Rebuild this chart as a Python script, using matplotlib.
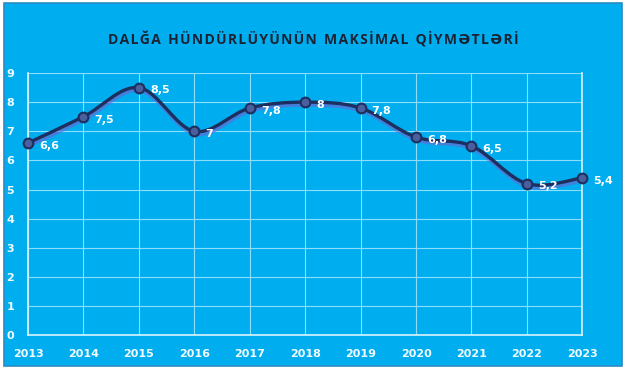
import matplotlib.pyplot as plt
from matplotlib.path import Path
from matplotlib.patches import PathPatch, Rectangle
import matplotlib.transforms as mtransforms

# values
years = [2013, 2014, 2015, 2016, 2017, 2018, 2019, 2020, 2021, 2022, 2023]
heights = [6.6, 7.5, 8.5, 7.0, 7.8, 8.0, 7.8, 6.8, 6.5, 5.2, 5.4]
labels = ["6,6", "7,5", "8,5", "7", "7,8", "8", "7,8", "6,8", "6,5", "5,2", "5,4"]
title = "DALĞA HÜNDÜRLÜYÜNÜN MAKSİMAL QİYMƏTLƏRİ"

bg = "#00AEEF"
navy = "#1C2F5F"

fig = plt.figure(figsize=(6.27, 3.69), dpi=100)
fig.patch.set_facecolor("white")
fig.patches.append(Rectangle((0.006, 0.008), 0.986, 0.984, transform=fig.transFigure,
                             facecolor=bg, edgecolor="#2A8BC4", linewidth=1.2, zorder=-10))

ax = fig.add_axes([0.0447, 0.092, 0.884, 0.710])
ax.set_facecolor(bg)
ax.set_xlim(2013, 2023)
ax.set_ylim(0, 9)
ax.set_xticks(years)
ax.set_yticks(range(10))
ax.grid(True, color="#8FDDFA", linewidth=0.8)
ax.set_axisbelow(True)
ax.spines["top"].set_visible(False)
for s in ["left", "bottom", "right"]:
    ax.spines[s].set_color("#D8F4FF")
    ax.spines[s].set_linewidth(1.2)
ax.tick_params(length=0, colors="#F2FBFF", labelsize=8)
ax.tick_params(axis="x", pad=10)
ax.tick_params(axis="y", pad=10)
for t in ax.get_xticklabels() + ax.get_yticklabels():
    t.set_fontweight("bold")

# smooth line like the spreadsheet's smoothed series (bezier through each point)
verts = [(years[0], heights[0])]
codes = [Path.MOVETO]
n = len(years)
for i in range(n - 1):
    p0 = (years[max(i - 1, 0)], heights[max(i - 1, 0)])
    p1 = (years[i], heights[i])
    p2 = (years[i + 1], heights[i + 1])
    p3 = (years[min(i + 2, n - 1)], heights[min(i + 2, n - 1)])
    c1 = (p1[0] + (p2[0] - p0[0]) / 6, p1[1] + (p2[1] - p0[1]) / 6)
    c2 = (p2[0] - (p3[0] - p1[0]) / 6, p2[1] - (p3[1] - p1[1]) / 6)
    verts += [c1, c2, p2]
    codes += [Path.CURVE4] * 3
path = Path(verts, codes)

shadow_tr = mtransforms.offset_copy(ax.transData, fig=fig, x=0.5, y=-1.8, units="points")
ax.add_patch(PathPatch(path, facecolor="none", edgecolor="#6F62CF", linewidth=3,
                       alpha=0.6, transform=shadow_tr, zorder=2, clip_on=False))
ax.add_patch(PathPatch(path, facecolor="none", edgecolor=navy, linewidth=2.4,
                       zorder=3, clip_on=False, capstyle="round"))
ax.plot(years, heights, linestyle="none", marker="o", markersize=7,
        markerfacecolor="#4B5E9E", markeredgecolor=navy, markeredgewidth=1.5,
        zorder=4, clip_on=False)

for x, y, lab in zip(years, heights, labels):
    ax.annotate(lab, (x, y), xytext=(8, -2), textcoords="offset points",
                ha="left", va="center", color="white", fontsize=8,
                fontweight="bold", zorder=5)

# spaced-out title, as in the reference
spaced = "\u200a".join(title).replace("\u200a \u200a", "  ")
fig.text(0.5, 0.892, spaced, ha="center", va="center", fontsize=10,
         fontweight="bold", color="#1A2233", family=["Open Sans", "DejaVu Sans"])

fig.savefig("out.png", dpi=100, facecolor=fig.get_facecolor())
